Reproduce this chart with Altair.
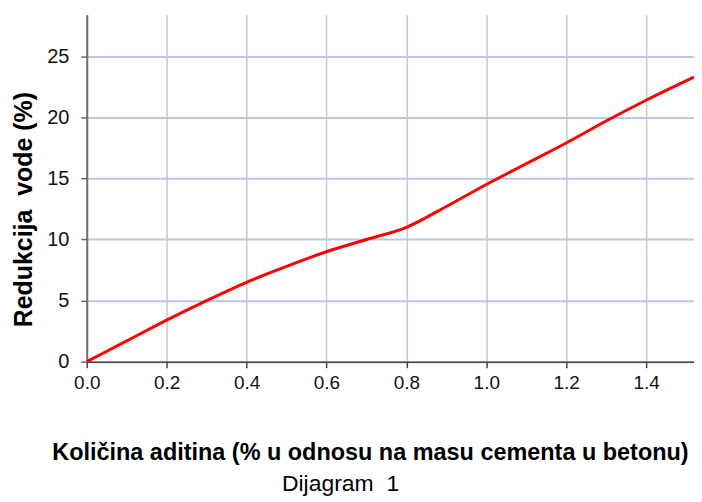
import altair as alt
import pandas as pd

# Data
dose = [0.0, 0.1, 0.2, 0.3, 0.4, 0.5, 0.6, 0.7, 0.8, 0.9, 1.0, 1.1, 1.2, 1.3, 1.4, 1.52]
reduction = [0.0, 1.7, 3.4, 5.0, 6.5, 7.8, 9.0, 10.0, 11.0, 12.7, 14.5, 16.2, 17.9, 19.7, 21.4, 23.3]

x_ticks = [0.0, 0.2, 0.4, 0.6, 0.8, 1.0, 1.2, 1.4]
y_ticks = [0, 5, 10, 15, 20, 25]

x_title = "Količina aditina (% u odnosu na masu cementa u betonu)"
y_title = "Redukcija\u00a0\u00a0vode (%)"
chart_title = "Dijagram\u00a0\u00a01"

df = pd.DataFrame({"x": dose, "y": reduction})

FONT = "Liberation Sans"

line = alt.Chart(df).mark_line(
    color="#ff0000", strokeWidth=3, interpolate="monotone"
).encode(
    x=alt.X(
        "x:Q",
        scale=alt.Scale(domain=[0, 1.52], nice=False, zero=False),
        axis=alt.Axis(
            values=x_ticks,
            format=".1f",
            title=x_title,
            titleFont=FONT,
            titleFontSize=23.5,
            titleFontWeight="bold",
            titleColor="#000000",
            titleX=284,
            titleY=98,
            titleBaseline="alphabetic",
            titleAnchor="start",
            titleAlign="center",
            labelFont=FONT,
            labelFontSize=19,
            labelColor="#111111",
            labelPadding=6,
            labelFlush=False,
            tickSize=6,
            tickColor="#444444",
            tickWidth=1.5,
            domainColor="#444444",
            domainWidth=1.5,
            grid=True,
            gridColor="#c8c8c8",
            gridWidth=1.5,
        ),
    ),
    y=alt.Y(
        "y:Q",
        scale=alt.Scale(domain=[0, 28.4], nice=False, zero=True),
        axis=alt.Axis(
            values=y_ticks,
            title=y_title,
            titleFont=FONT,
            titleFontSize=25,
            titleFontWeight="bold",
            titleColor="#000000",
            titleX=-63,
            titleY=195,
            titleBaseline="middle",
            titleAlign="center",
            titleAngle=270,
            labelFont=FONT,
            labelFontSize=20,
            labelColor="#111111",
            labelPadding=12,
            tickSize=6,
            tickColor="#666666",
            tickWidth=1.5,
            domainColor="#6e6e6e",
            domainWidth=2,
            grid=True,
            gridColor="#b8c8ea",
            gridWidth=2,
        ),
    ),
)

chart = line.properties(
    width=609,
    height=348,
    title=alt.TitleParams(
        text=chart_title,
        orient="bottom",
        anchor="middle",
        frame="group",
        dx=-50,
        offset=9,
        font=FONT,
        fontSize=23,
        fontWeight="normal",
        color="#000000",
    ),
    autosize=alt.AutoSizeParams(type="none"),
    padding={"left": 79, "top": 6, "right": 0, "bottom": 140},
).configure_view(stroke=None)

chart.save("out.html", embed_options={"renderer": "svg", "actions": False})
